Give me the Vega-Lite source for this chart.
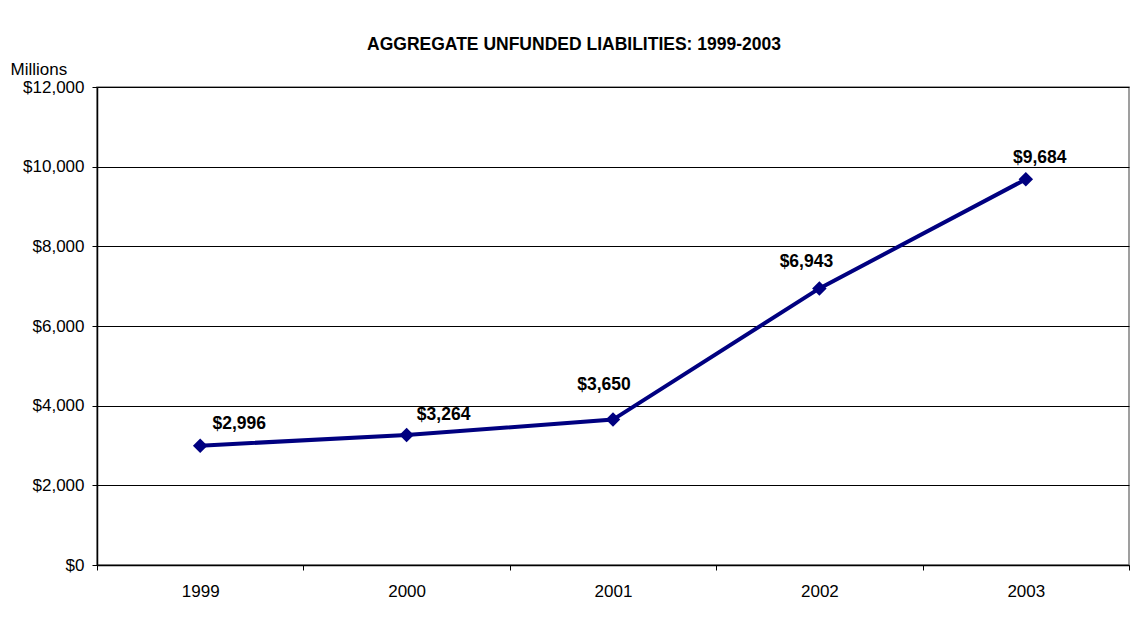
{
  "$schema": "https://vega.github.io/schema/vega-lite/v6.json",
  "autosize": {"type": "none"},
  "width": 1032,
  "height": 478,
  "padding": {"left": 97, "top": 87, "right": 6, "bottom": 61},
  "background": "white",
  "config": {
    "font": "Liberation Sans",
    "view": {"stroke": "#808080", "strokeWidth": 1.5}
  },
  "title": {
    "text": "AGGREGATE UNFUNDED LIABILITIES: 1999-2003",
    "fontSize": 17.5,
    "fontWeight": "bold",
    "color": "black",
    "anchor": "middle",
    "dx": -39,
    "offset": 7,
    "font": "Liberation Sans"
  },
  "data": {
    "values": [
      {"year": "1999", "value": 2996, "label": "$2,996"},
      {"year": "2000", "value": 3264, "label": "$3,264"},
      {"year": "2001", "value": 3650, "label": "$3,650"},
      {"year": "2002", "value": 6943, "label": "$6,943"},
      {"year": "2003", "value": 9684, "label": "$9,684"}
    ]
  },
  "encoding": {
    "x": {
      "field": "year", "type": "ordinal",
      "scale": {"paddingInner": 0, "paddingOuter": 0},
      "axis": {
        "title": null, "labelAngle": 0, "labelFontSize": 17, "labelColor": "black",
        "labelPadding": 13, "tickBand": "extent", "tickColor": "black", "tickSize": 5,
        "domainColor": "black", "domainWidth": 1.5, "grid": false
      }
    },
    "y": {
      "field": "value", "type": "quantitative",
      "scale": {"domain": [0, 12000], "nice": false},
      "axis": {
        "values": [0, 2000, 4000, 6000, 8000, 10000, 12000],
        "format": "$,d",
        "labelFontSize": 17, "labelColor": "black", "labelPadding": 8,
        "tickColor": "black", "tickSize": 5,
        "domainColor": "black", "domainWidth": 1.5,
        "grid": true, "gridColor": "black", "gridWidth": 1, "gridOpacity": 1,
        "title": "Millions", "titleAngle": 0, "titleFontSize": 17, "titleFontWeight": "normal",
        "titleColor": "black", "titleX": -87, "titleY": -13, "titleAlign": "left", "titleBaseline": "alphabetic"
      }
    }
  },
  "layer": [
    {"mark": {"type": "line", "color": "#000080", "strokeWidth": 4}},
    {"mark": {"type": "point", "shape": "diamond", "filled": true, "size": 210, "color": "#000080", "opacity": 1}},
    {
      "transform": [{"filter": "datum.year == '1999'"}],
      "mark": {"type": "text", "fontSize": 17.5, "fontWeight": "bold", "color": "black", "dx": 39, "dy": -22},
      "encoding": {"text": {"field": "label"}}
    },
    {
      "transform": [{"filter": "datum.year == '2000'"}],
      "mark": {"type": "text", "fontSize": 17.5, "fontWeight": "bold", "color": "black", "dx": 37, "dy": -20},
      "encoding": {"text": {"field": "label"}}
    },
    {
      "transform": [{"filter": "datum.year == '2001'"}],
      "mark": {"type": "text", "fontSize": 17.5, "fontWeight": "bold", "color": "black", "dx": -9, "dy": -35},
      "encoding": {"text": {"field": "label"}}
    },
    {
      "transform": [{"filter": "datum.year == '2002'"}],
      "mark": {"type": "text", "fontSize": 17.5, "fontWeight": "bold", "color": "black", "dx": -13, "dy": -26},
      "encoding": {"text": {"field": "label"}}
    },
    {
      "transform": [{"filter": "datum.year == '2003'"}],
      "mark": {"type": "text", "fontSize": 17.5, "fontWeight": "bold", "color": "black", "dx": 14, "dy": -21},
      "encoding": {"text": {"field": "label"}}
    }
  ]
}
